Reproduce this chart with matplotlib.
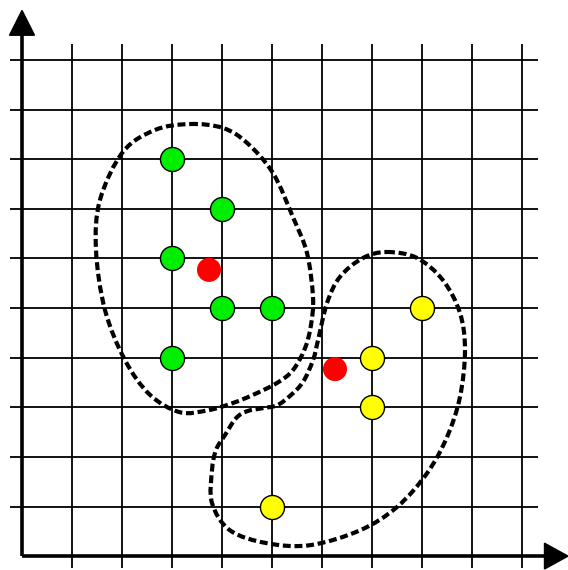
import numpy as np
import matplotlib
matplotlib.use('Agg')
from matplotlib import pyplot as plt
from matplotlib.path import Path
from matplotlib.patches import PathPatch

# cluster members
green_x = [3, 4, 3, 4, 5, 3]
green_y = [8, 7, 6, 5, 5, 4]
yellow_x = [7, 8, 7, 5]
yellow_y = [4, 5, 3, 1]
# cluster centres
red_x = [3.74, 6.26]
red_y = [5.77, 3.77]

# dashed outlines (points on the curve, grid units)
green_outline_x = [3.36, 4.02, 4.50, 5.02, 5.42, 5.70, 5.82, 5.78, 5.66, 5.42,
                   5.10, 4.62, 4.20, 3.72, 3.16, 2.56, 2.06, 1.66, 1.48, 1.56,
                   2.02, 2.66]
green_outline_y = [8.71, 8.63, 8.33, 7.72, 6.83, 6.11, 5.22, 4.66, 4.19, 3.75,
                   3.49, 3.25, 3.08, 2.94, 2.90, 3.25, 3.95, 4.96, 6.17, 7.18,
                   8.15, 8.59]
yellow_outline_x = [7.30, 7.90, 8.42, 8.76, 8.86, 8.76, 8.50, 8.10, 7.50, 6.76,
                    5.76, 4.90, 4.16, 3.80, 3.80, 3.88, 4.06, 4.28, 4.50, 4.80,
                    5.10, 5.36, 5.62, 5.82, 5.92, 6.10, 6.36, 6.82]
yellow_outline_y = [6.13, 6.01, 5.56, 4.90, 4.15, 3.21, 2.40, 1.67, 0.99, 0.52,
                    0.22, 0.26, 0.52, 1.07, 1.73, 2.14, 2.44, 2.78, 2.92, 2.98,
                    3.04, 3.23, 3.51, 3.95, 4.35, 5.10, 5.63, 6.01]

grid_lines = list(range(1, 11))


def closed_curve(xs, ys):
  # closed catmull-rom curve as cubic beziers
  pts = np.column_stack([xs, ys])
  prev = np.roll(pts, 1, axis=0)
  nxt = np.roll(pts, -1, axis=0)
  nxt2 = np.roll(pts, -2, axis=0)
  verts = [pts[0]]
  codes = [Path.MOVETO]
  for i in range(len(pts)):
    verts.append(pts[i] + (nxt[i] - prev[i]) / 6)
    verts.append(nxt[i] - (nxt2[i] - pts[i]) / 6)
    verts.append(nxt[i])
    codes += [Path.CURVE4] * 3
  return Path(verts, codes)


fig = plt.figure(figsize=(5.68, 5.70), dpi=100)
ax = fig.add_axes([0, 0, 1, 1])
ax.set_xlim(-0.44, 10.92)
ax.set_ylim(-0.28, 11.21)
ax.axis('off')

ax.vlines(grid_lines, -0.24, 10.32, color='black', lw=1.3, zorder=1)
ax.hlines(grid_lines, -0.24, 10.32, color='black', lw=1.3, zorder=1)

# axes with arrows
ax.plot([0, 0], [0, 10.6], color='black', lw=2.6, zorder=2, solid_capstyle='butt')
ax.plot([0, 10.5], [0, 0], color='black', lw=2.6, zorder=2, solid_capstyle='butt')
ax.fill([-0.25, 0, 0.25], [10.5, 11.0, 10.5], color='black', zorder=2, clip_on=False)
ax.fill([10.45, 10.92, 10.45], [0.26, 0, -0.26], color='black', zorder=2, clip_on=False)

for ox, oy in [(green_outline_x, green_outline_y), (yellow_outline_x, yellow_outline_y)]:
  patch = PathPatch(closed_curve(ox, oy), fill=False, edgecolor='black',
                    lw=3.0, linestyle=(0, (1.9, 0.9)), zorder=3)
  ax.add_patch(patch)

ax.scatter(green_x, green_y, s=300, color='#00ee00', edgecolor='black', lw=1.0, zorder=4)
ax.scatter(yellow_x, yellow_y, s=300, color='#ffff00', edgecolor='black', lw=1.0, zorder=4)
ax.scatter(red_x, red_y, s=300, color='#ff0000', edgecolor='none', zorder=4)

plt.savefig('out.png')
